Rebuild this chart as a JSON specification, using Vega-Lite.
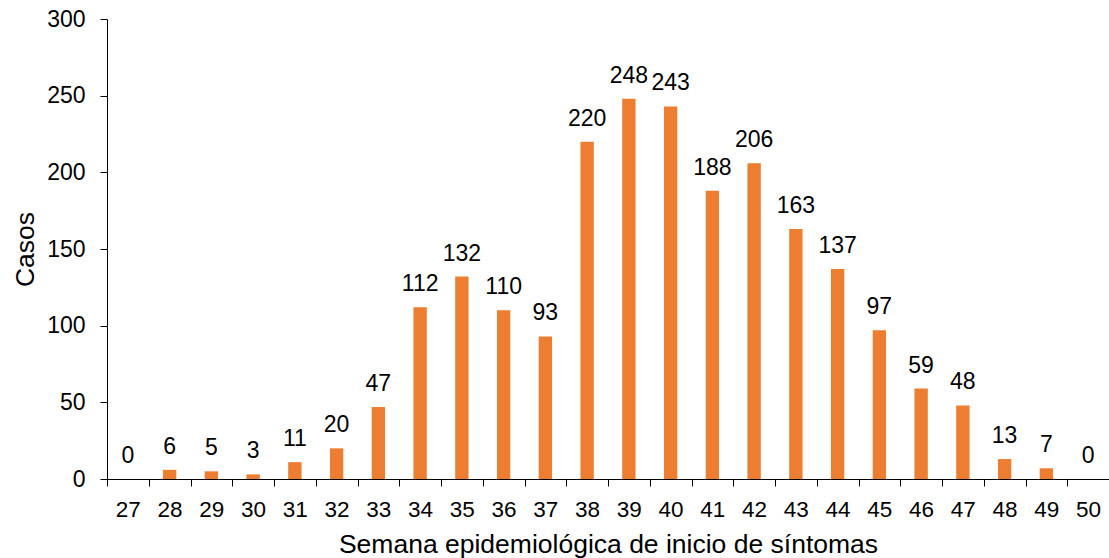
{
  "$schema": "https://vega.github.io/schema/vega-lite/v6.json",
  "width": 1002,
  "height": 460,
  "autosize": {"type": "none"},
  "padding": {"left": 107, "top": 19, "right": 0, "bottom": 79},
  "background": "white",
  "config": {"view": {"stroke": null}, "font": "Liberation Sans"},
  "data": {
    "values": [
      {"semana": 27, "casos": 0},
      {"semana": 28, "casos": 6},
      {"semana": 29, "casos": 5},
      {"semana": 30, "casos": 3},
      {"semana": 31, "casos": 11},
      {"semana": 32, "casos": 20},
      {"semana": 33, "casos": 47},
      {"semana": 34, "casos": 112},
      {"semana": 35, "casos": 132},
      {"semana": 36, "casos": 110},
      {"semana": 37, "casos": 93},
      {"semana": 38, "casos": 220},
      {"semana": 39, "casos": 248},
      {"semana": 40, "casos": 243},
      {"semana": 41, "casos": 188},
      {"semana": 42, "casos": 206},
      {"semana": 43, "casos": 163},
      {"semana": 44, "casos": 137},
      {"semana": 45, "casos": 97},
      {"semana": 46, "casos": 59},
      {"semana": 47, "casos": 48},
      {"semana": 48, "casos": 13},
      {"semana": 49, "casos": 7},
      {"semana": 50, "casos": 0}
    ]
  },
  "encoding": {
    "x": {
      "field": "semana",
      "type": "ordinal",
      "scale": {"paddingInner": 0, "paddingOuter": 0},
      "axis": {
        "title": "Semana epidemiológica de inicio de síntomas",
        "labelAngle": 0,
        "tickBand": "extent",
        "tickSize": 7,
        "tickColor": "black",
        "domainColor": "black",
        "labelPadding": 12,
        "labelFontSize": 22.5,
        "labelColor": "black",
        "titleFontSize": 26.5,
        "titleFontWeight": "normal",
        "titleColor": "black",
        "titleBaseline": "alphabetic",
        "titleY": 73,
        "grid": false
      }
    },
    "y": {
      "field": "casos",
      "type": "quantitative",
      "scale": {"domain": [0, 300], "nice": false},
      "axis": {
        "title": "Casos",
        "values": [0, 50, 100, 150, 200, 250, 300],
        "tickSize": 7,
        "tickColor": "black",
        "domainColor": "black",
        "labelPadding": 15,
        "labelFontSize": 23,
        "labelColor": "black",
        "titleFontSize": 26.5,
        "titleFontWeight": "normal",
        "titleColor": "black",
        "titleBaseline": "alphabetic",
        "titleX": -74,
        "titleY": 230,
        "grid": false
      }
    }
  },
  "layer": [
    {
      "mark": {
        "type": "bar",
        "width": {"band": 0.32},
        "color": "#ED7D31"
      }
    },
    {
      "mark": {
        "type": "text",
        "baseline": "alphabetic",
        "dy": -16,
        "fontSize": 23,
        "color": "black"
      },
      "encoding": {"text": {"field": "casos", "type": "quantitative"}}
    }
  ]
}
